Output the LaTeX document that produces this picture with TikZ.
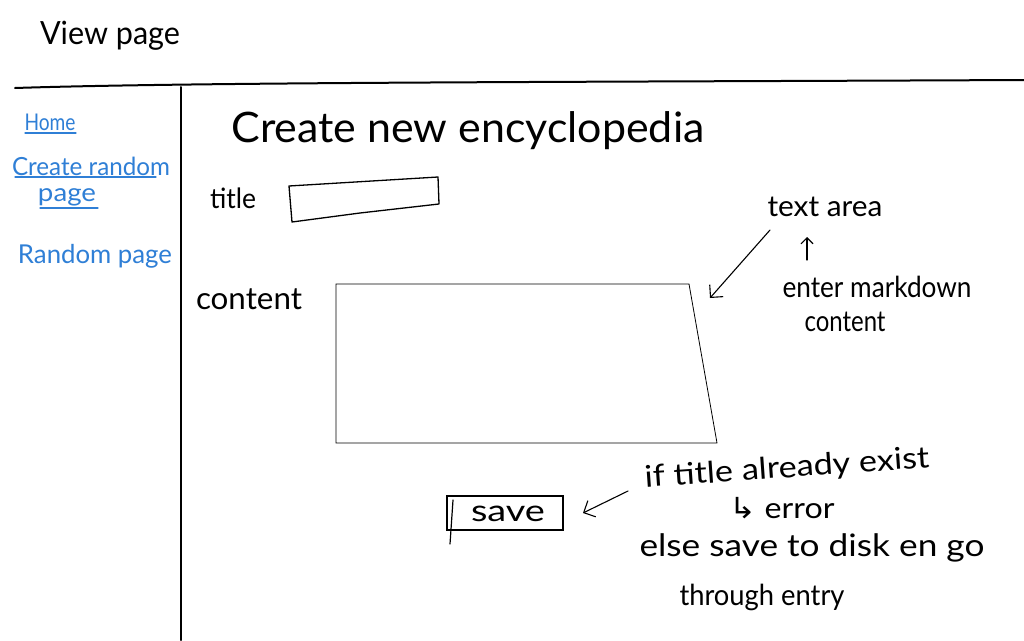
\documentclass[tikz,border=0pt]{standalone}
\usepackage{fontspec}
\setmainfont{Lato}
\newfontfamily\symfont{DejaVu Sans}
\usetikzlibrary{arrows.meta}
\definecolor{linkblue}{HTML}{2F7FD6}
\newlength\hwlen
% \hw{target width}{font size}{text}: set at size, stretch horizontally to width
\newcommand{\hw}[3]{{\fontsize{#2}{#2}\selectfont\settowidth{\hwlen}{#3}%
  \edef\hwscale{\fpeval{round(#1/\hwlen,4)}}\scalebox{\hwscale}[1]{#3}}}
\tikzset{
  hand/.style={inner sep=0pt, anchor=center},
  link/.style={hand, text=linkblue},
  ul/.style={draw=linkblue, line width=1.2pt, line cap=round},
  frame/.style={line width=2pt, line cap=round},
  pointer/.style={line width=1.1pt, line cap=round, -{Straight Barb[length=9pt,width=18pt]}},
}
\begin{document}
\begin{tikzpicture}[x=1pt,y=-1pt]
\useasboundingbox[fill=white] (0,0) rectangle (1024,640);
% header
\node[hand] (viewpage) at (110,36) {\hw{140}{32}{View page}};
\coordinate (hl) at (15,88);
\coordinate (hr) at (1024,80);
\draw[frame] (hl) .. controls (200,82) and (600,82) .. (hr);
\coordinate (vt) at (181,87);
\coordinate (vb) at (181,640);
\draw[frame] (vt) -- (vb);
% sidebar
\node[link] (home) at (50,122) {\hw{51}{23}{Home}};
\draw[ul] (25,133) -- (76,133);
\node[link] (create) at (91,166) {\hw{158}{25}{Create random}};
\draw[ul] (15,177) -- (156,177);
\node[link] (cpage) at (67,197) {\hw{58}{25}{page}};
\draw[ul] (40,208) -- (98,208);
\node[link] (random) at (95,256) {\hw{154}{26}{Random page}};
% main
\node[hand] (heading) at (468,131) {\hw{473}{42}{Create new encyclopedia}};
\node[hand] (titlelbl) at (233,198) {\hw{46}{28}{title}};
\draw[line width=1.3pt, line join=round] (289,186) -- (438,177) -- (439,204) -- (360,213) -- (292,222) -- cycle;
\node[hand] (contentlbl) at (249,299) {\hw{106}{31}{content}};
\coordinate (areaTL) at (336,284);
\coordinate (areaTR) at (689,284);
\coordinate (areaBR) at (717,443);
\coordinate (areaBL) at (336,443);
\draw[line width=0.8pt] (areaTL) -- (areaTR) -- (areaBR) -- (areaBL) -- cycle;
\coordinate (areaedge) at (710,298);
% text area notes
\node[hand] (textarea) at (825,207) {\hw{115}{29}{text area}};
\draw[pointer] (770,230) -- (areaedge);
\node[hand] (markdown) at (877,287) {\hw{189}{29}{enter markdown}};
\node[hand] (mdcontent) at (845,322) {\hw{81}{29}{content}};
\draw[pointer, -{Straight Barb[length=6pt,width=12pt]}] (807,260) -- (807,237);
% save
\node[draw, line width=1.6pt, minimum width=116pt, minimum height=34pt, inner sep=0pt] (save) at (505,513) {};
\node[hand] (savetxt) at (508,514) {\hw{74}{30}{save}};
\draw[line width=1.2pt, line cap=round] (453,500) -- (450,544);
\coordinate (savetip) at (583,513);
\node[hand, rotate=4] (iftitle) at (787,469) {\hw{285}{30}{if title already exist}};
\node[hand] (error) at (782,508) {\hw{105}{29}{{\symfont ↳} error}};
\node[hand] (elsesave) at (812,548) {\hw{345}{31}{else save to disk en go}};
\node[hand] (through) at (762,597) {\hw{165}{29}{through entry}};
\draw[pointer] (628,491) -- (savetip);
\end{tikzpicture}
\end{document}
